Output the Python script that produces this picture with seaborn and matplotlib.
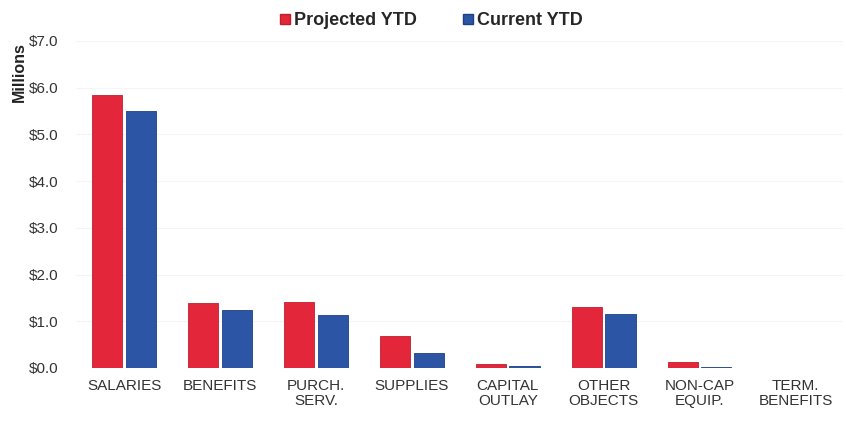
import pandas as pd
import matplotlib.pyplot as plt
import seaborn as sns
from matplotlib.lines import Line2D

# values, in millions of dollars
categories = ['SALARIES', 'BENEFITS', 'PURCH.\nSERV.', 'SUPPLIES', 'CAPITAL\nOUTLAY',
              'OTHER\nOBJECTS', 'NON-CAP\nEQUIP.', 'TERM.\nBENEFITS']
projected_ytd = [5.85, 1.39, 1.41, 0.69, 0.08, 1.30, 0.12, 0.0]
current_ytd = [5.50, 1.24, 1.13, 0.32, 0.04, 1.15, 0.02, 0.0]
series_names = ['Projected YTD', 'Current YTD']
yticks = [0, 1, 2, 3, 4, 5, 6, 7]

df = pd.DataFrame({
    'category': categories * 2,
    'value': projected_ytd + current_ytd,
    'series': [series_names[0]] * len(categories) + [series_names[1]] * len(categories),
})

sns.set_style('white')
plt.rcParams['font.family'] = ['Liberation Sans', 'DejaVu Sans']

palette = {'Projected YTD': '#E3263A', 'Current YTD': '#2C55A6'}
edges = {'Projected YTD': '#BE1E2F', 'Current YTD': '#1E3F82'}

fig = plt.figure(figsize=(8.46, 4.22), dpi=100)
ax = fig.add_axes([0.09, 0.128, 0.907, 0.775])

sns.barplot(data=df, x='category', y='value', hue='series', palette=palette,
            width=0.7, gap=0.1, saturation=1, ax=ax, legend=False)

# darker outline per series
for cont, name in zip(ax.containers, series_names):
    for bar in cont:
        bar.set_edgecolor(edges[name])
        bar.set_linewidth(0.6)

ax.set_xlim(-0.5, len(categories) - 0.5)
ax.set_ylim(0, 7)
ax.set_yticks(yticks)
ax.set_yticklabels([f'${v:.1f}' for v in yticks])
ax.set_xlabel('')
ax.set_ylabel('Millions', fontsize=11.5, fontweight='bold', color='#222222')
ax.yaxis.set_label_coords(-0.064, 0.905)
ax.tick_params(axis='y', length=0, pad=13, labelsize=11, labelcolor='#333333')
ax.tick_params(axis='x', length=0, pad=8, labelsize=11, labelcolor='#333333')
for lbl in ax.get_xticklabels():
    lbl.set_linespacing(1.05)
ax.grid(axis='y', color='#f5f5f5', linewidth=0.8)
ax.set_axisbelow(True)
sns.despine(ax=ax, left=True, bottom=True)

handles = [Line2D([], [], marker='s', linestyle='', markersize=6.5,
                  markerfacecolor=palette[n], markeredgecolor=edges[n]) for n in series_names]
fig.legend(handles, series_names, loc='upper center', bbox_to_anchor=(0.502, 1.01),
           ncol=2, frameon=False, handletextpad=-0.5, columnspacing=1.8,
           prop={'weight': 'bold', 'size': 13})

fig.savefig('out.png', dpi=100)
